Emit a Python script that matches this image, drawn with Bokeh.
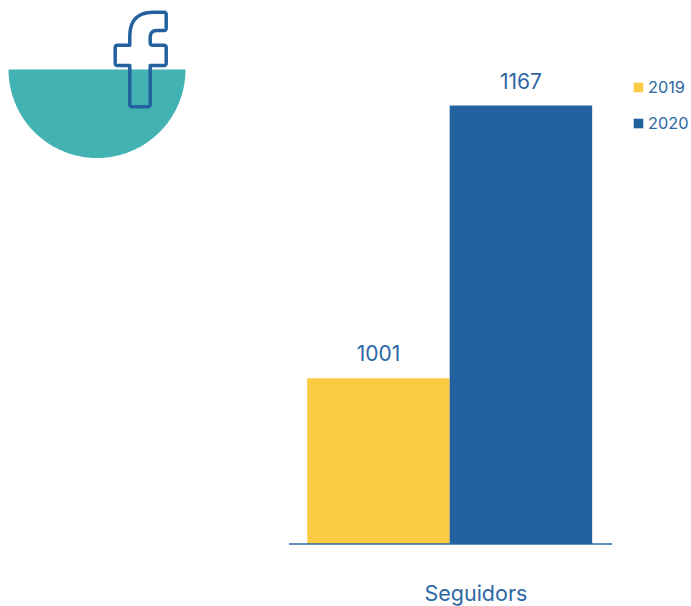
import numpy as np
from bokeh.core.properties import value
from bokeh.embed import file_html
from bokeh.models import ColumnDataSource, Legend, LegendItem, Range1d
from bokeh.plotting import figure
from bokeh.resources import INLINE

years = ["2019", "2020"]
followers = [1001, 1167]
category = "Seguidors"
colors = ["#FBCB43", "#23629E"]
text_color = "#2C67A3"
teal = "#43B2B2"
font = "Inter"

W, H = 691, 606
positions = [0, 1]
y_base = 900

p = figure(
    width=W, height=H, output_backend="svg", toolbar_location=None,
    x_range=Range1d(-2.652, 2.197), y_range=Range1d(861.94, 1231),
    min_border=0, outline_line_color=None, background_fill_color="white",
)
p.extra_x_ranges = {"px": Range1d(0, W)}
p.extra_y_ranges = {"py": Range1d(H, 0)}
p.grid.visible = False
p.xaxis.visible = False
p.yaxis.visible = False

# Decorative emblem, in pixels of the figure
cx, r, top = 96.5, 88.5, 69.0
t = np.linspace(0, np.pi, 121)
p.patch(cx + r * np.cos(t), top + r * np.sin(t), fill_color=teal, line_color=None,
        x_range_name="px", y_range_name="py")


def rounded(vertices):
    xs, ys = [], []
    n = len(vertices)
    for i, (x, y, rad) in enumerate(vertices):
        a = np.array([x, y], float)
        if rad == 0:
            xs.append(x); ys.append(y); continue
        prev = np.array(vertices[i - 1][:2], float)
        nxt = np.array(vertices[(i + 1) % n][:2], float)
        s = a + (prev - a) / np.linalg.norm(prev - a) * rad
        e = a + (nxt - a) / np.linalg.norm(nxt - a) * rad
        for u in np.linspace(0, 1, 12):
            q = (1 - u) ** 2 * s + 2 * u * (1 - u) * a + u ** 2 * e
            xs.append(q[0]); ys.append(q[1])
    return xs, ys


f_shape = [
    (129.3, 106.3, 2.5), (129.3, 65, 0), (114.7, 65, 2.5),
    (114.7, 44.7, 2.5), (129.3, 44.7, 0), (129.3, 11.7, 24), (165.7, 11.7, 2.5),
    (165.7, 30, 2.5), (149.7, 30, 7), (149.7, 44.7, 2.5), (165.7, 44.7, 2.5),
    (165.7, 65, 2.5), (149.7, 65, 0), (149.7, 106.3, 2.5),
]
fx, fy = rounded(f_shape)
p.patch(fx, fy, fill_color=None, line_color=colors[1], line_width=3.5, line_join="round",
        x_range_name="px", y_range_name="py")

# Bars
items = []
for x, year, val, col in zip(positions, years, followers, colors):
    src = ColumnDataSource(dict(x=[x], top=[val], lab=[str(val)]))
    r_bar = p.vbar(x="x", top="top", bottom=y_base, width=1, source=src, fill_color=col, line_color=None)
    p.text(x="x", y="top", text="lab", source=src, text_align="center", text_baseline="bottom",
           y_offset=-17, text_color=text_color, text_font=value(font), text_font_size="21px")
    items.append(LegendItem(label=year, renderers=[r_bar]))

# Baseline and category name
p.segment(x0=[-0.628], x1=[1.639], y0=[y_base], y1=[y_base], line_color=text_color, line_width=1.7)
p.text(x=[0.684], y=[y_base], text=[category], text_align="center", text_baseline="middle",
       y_offset=48.5, text_color=text_color, text_font=value(font), text_font_size="21.5px")

legend = Legend(
    items=items, location=(632, 473), orientation="vertical", spacing=16, padding=0, margin=0,
    glyph_width=12, glyph_height=12, label_standoff=4, label_height=12,
    background_fill_alpha=0, border_line_color=None,
    label_text_color=text_color, label_text_font=font, label_text_font_size="16.3px",
)
p.add_layout(legend)

open("out.html", "w").write(file_html(p, INLINE))
